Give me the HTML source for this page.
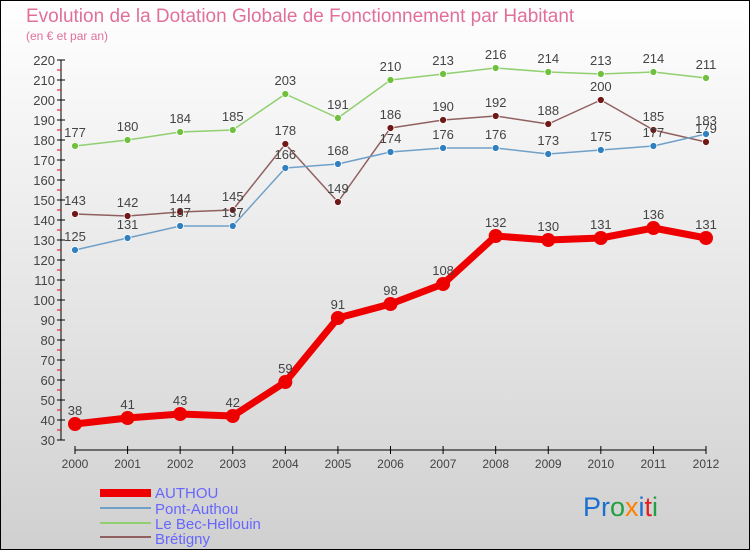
<!DOCTYPE html>
<html><head><meta charset="utf-8"><style>
body{margin:0;width:750px;height:550px;overflow:hidden;font-family:"Liberation Sans",sans-serif}
</style></head><body>
<svg width="750" height="550" xmlns="http://www.w3.org/2000/svg">
<defs><linearGradient id="bg" x1="0" y1="0" x2="0" y2="1"><stop offset="0" stop-color="#ffffff"/><stop offset="1" stop-color="#d0d0d0"/></linearGradient></defs>
<rect x="0.5" y="0.5" width="749" height="549" fill="url(#bg)" stroke="#000"/>
<text x="26" y="22" font-size="19" fill="#e0709a">Evolution de la Dotation Globale de Fonctionnement par Habitant</text>
<text x="26" y="40" font-size="12" fill="#e0709a">(en € et par an)</text>
<g id="axes"></g>
<g id="series"></g>
<g>
<rect x="100" y="489" width="51" height="8" fill="#e00"/>
<text x="155" y="498" font-size="15" fill="#6666ff">AUTHOU</text>
<rect x="100" y="507" width="51" height="2" fill="#70a0c8"/>
<text x="155" y="514" font-size="15" fill="#6666ff">Pont-Authou</text>
<rect x="100" y="522" width="51" height="2" fill="#90d070"/>
<text x="155" y="529" font-size="15" fill="#6666ff">Le Bec-Hellouin</text>
<rect x="100" y="536" width="51" height="2" fill="#906060"/>
<text x="155" y="544" font-size="15" fill="#6666ff">Brétigny</text>
</g>
<text x="583" y="516" font-size="27"><tspan fill="#1a70d0">Pr</tspan><tspan fill="#20a040">o</tspan><tspan fill="#ff8000">x</tspan><tspan fill="#1a70d0">i</tspan><tspan fill="#e02020">t</tspan><tspan fill="#20a040">i</tspan></text>
</svg>
<script>
const years=[2000,2001,2002,2003,2004,2005,2006,2007,2008,2009,2010,2011,2012];
const authou=[38,41,43,42,59,91,98,108,132,130,131,136,131];
const pontAuthou=[125,131,137,137,166,168,174,176,176,173,175,177,183];
const becHellouin=[177,180,184,185,203,191,210,213,216,214,213,214,211];
const bretigny=[143,142,144,145,178,149,186,190,192,188,200,185,179];
const yTicks=[30,40,50,60,70,80,90,100,110,120,130,140,150,160,170,180,190,200,210,220];
const NS='http://www.w3.org/2000/svg';
const X=i=>75+i*(706-75)/(years.length-1);
const Y=v=>440-(v-30)*2;
function mk(t,a,p){const e=document.createElementNS(NS,t);for(const k in a)e.setAttribute(k,a[k]);p.appendChild(e);return e;}
const ax=document.getElementById('axes');
let yl=mk('line',{x1:61,y1:Y(220),x2:61,y2:Y(30),stroke:'#000'},ax);


yTicks.forEach(v=>{
 mk('line',{x1:57,x2:65,y1:Y(v),y2:Y(v),stroke:'#000'},ax);
 if(v<220) mk('line',{x1:57,x2:61,y1:Y(v+5),y2:Y(v+5),stroke:'#e00'},ax);
 const t=mk('text',{x:55,y:Y(v)+5,'font-size':13,fill:'#444','text-anchor':'end'},ax);t.textContent=v;
 
 
});
let xl=mk('line',{x1:75,y1:450,x2:706,y2:450,stroke:'#000'},ax);


years.forEach((y,i)=>{
 mk('line',{x1:X(i),x2:X(i),y1:446,y2:454,stroke:'#000'},ax);
 const t=mk('text',{x:X(i),y:468,'font-size':12,fill:'#444','text-anchor':'middle'},ax);t.textContent=y;
 
 
});
const sg=document.getElementById('series');
function series(data,name,color,w,r,dot){
 const g=mk('g',{},sg);
 
 
 mk('polyline',{points:data.map((v,i)=>X(i)+','+Y(v)).join(' '),fill:'none',stroke:color,'stroke-width':w,'stroke-linejoin':'round'},g);
 data.forEach((v,i)=>{
  const c=mk('circle',{cx:X(i),cy:Y(v),r:r,fill:dot,stroke:'#fff','stroke-width':r>5?0:0.8},g);
  
  
  const t=mk('text',{x:X(i),y:Y(v)-9,'font-size':13,fill:'#444','text-anchor':'middle'},g);t.textContent=v;
  
  
 });
}
series(becHellouin,'le-bec-hellouin','#90d070',1.5,3.5,'#70c040');
series(bretigny,'bretigny','#906060',1.5,3.5,'#701818');
series(pontAuthou,'pont-authou','#70a0c8',1.5,3.5,'#3080c0');
series(authou,'authou','#ee0000',7,7,'#ee0000');
</script>
</body></html>
